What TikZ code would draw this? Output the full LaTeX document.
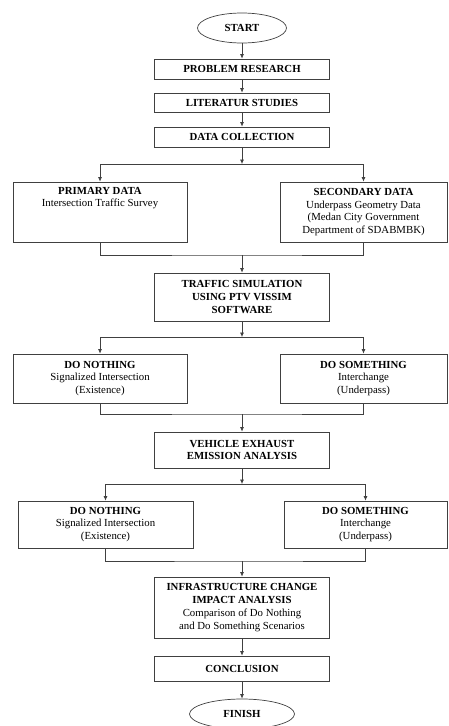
\documentclass[tikz,border=0pt]{standalone}
\usepackage{fontspec}
\setmainfont{Liberation Serif}
\usetikzlibrary{shapes.geometric,arrows.meta}

\begin{document}
\begin{tikzpicture}[x=1pt,y=-1pt,
  box/.style={draw=black!75,line width=0.7pt,align=center,inner sep=2pt,
    font=\fontsize{10.8}{12.8}\selectfont},
  term/.style={box,ellipse,minimum width=89pt,minimum height=30pt},
  arr/.style={draw=black!75,line width=0.7pt,-{Latex[length=4.5pt,width=4pt]}},
  joint/.style={draw=black!75,line width=0.7pt}]
\useasboundingbox (0,0) rectangle (448,726);

\node[term] (start) at (242,28) {\textbf{START}};
\node[box,minimum width=175pt,minimum height=20pt] (prob) at (242,69) {\textbf{PROBLEM RESEARCH}};
\node[box,minimum width=175pt,minimum height=19pt] (lit) at (242,102.5) {\textbf{LITERATUR STUDIES}};
\node[box,minimum width=175pt,minimum height=20pt] (dc) at (242,137) {\textbf{DATA COLLECTION}};
\node[box,minimum width=174pt,minimum height=60pt] (prim) at (100,212)
  {\parbox[t][50pt][t]{170pt}{\centering\textbf{PRIMARY DATA}\\Intersection Traffic Survey}};
\node[box,minimum width=167pt,minimum height=60pt] (sec) at (363.5,212)
  {\textbf{SECONDARY DATA}\\Underpass Geometry Data\\(Medan City Government\\Department of SDABMBK)};
\node[box,minimum width=175pt,minimum height=48pt] (sim) at (242,297)
  {\textbf{TRAFFIC SIMULATION}\\\textbf{USING PTV VISSIM}\\\textbf{SOFTWARE}};
\node[box,minimum width=174pt,minimum height=49pt] (dn1) at (100,378.5)
  {\textbf{DO NOTHING}\\Signalized Intersection\\(Existence)};
\node[box,minimum width=167pt,minimum height=49pt] (ds1) at (363.5,378.5)
  {\textbf{DO SOMETHING}\\Interchange\\(Underpass)};
\node[box,minimum width=175pt,minimum height=36pt] (veh) at (242,450)
  {\textbf{VEHICLE EXHAUST}\\\textbf{EMISSION ANALYSIS}};
\node[box,minimum width=175pt,minimum height=47pt] (dn2) at (105.5,524.5)
  {\textbf{DO NOTHING}\\Signalized Intersection\\(Existence)};
\node[box,minimum width=163pt,minimum height=47pt] (ds2) at (365.5,524.5)
  {\textbf{DO SOMETHING}\\Interchange\\(Underpass)};
\node[box,minimum width=175pt,minimum height=61pt] (inf) at (242,607.5)
  {\textbf{INFRASTRUCTURE CHANGE}\\\textbf{IMPACT ANALYSIS}\\Comparison of Do Nothing\\and Do Something Scenarios};
\node[box,minimum width=175pt,minimum height=25pt] (con) at (242,668.5) {\textbf{CONCLUSION}};
\node[term,minimum width=105pt] (fin) at (242,714) {\textbf{FINISH}};

% junctions
\coordinate (j1) at (242,164);
\coordinate (j2) at (242,255);
\coordinate (j3) at (242,337);
\coordinate (j4) at (242,414);
\coordinate (j5) at (242,484);
\coordinate (j6) at (242,561);

\draw[arr] (start) -- (prob);
\draw[arr] (prob) -- (lit);
\draw[arr] (lit) -- (dc);
\draw[arr] (dc) -- (j1);
\draw[arr] (j1) -| (prim.north);
\draw[arr] (j1) -| (sec.north);
\draw[joint] (prim.south) |- (j2) -| (sec.south);
\draw[arr] (j2) -- (sim);
\draw[arr] (sim) -- (j3);
\draw[arr] (j3) -| (dn1.north);
\draw[arr] (j3) -| (ds1.north);
\draw[joint] (dn1.south) |- (j4) -| (ds1.south);
\draw[arr] (j4) -- (veh);
\draw[arr] (veh) -- (j5);
\draw[arr] (j5) -| (dn2.north);
\draw[arr] (j5) -| (ds2.north);
\draw[joint] (dn2.south) |- (j6) -| (ds2.south);
\draw[arr] (j6) -- (inf);
\draw[arr] (inf) -- (con);
\draw[arr] (con) -- (fin);
\end{tikzpicture}
\end{document}
